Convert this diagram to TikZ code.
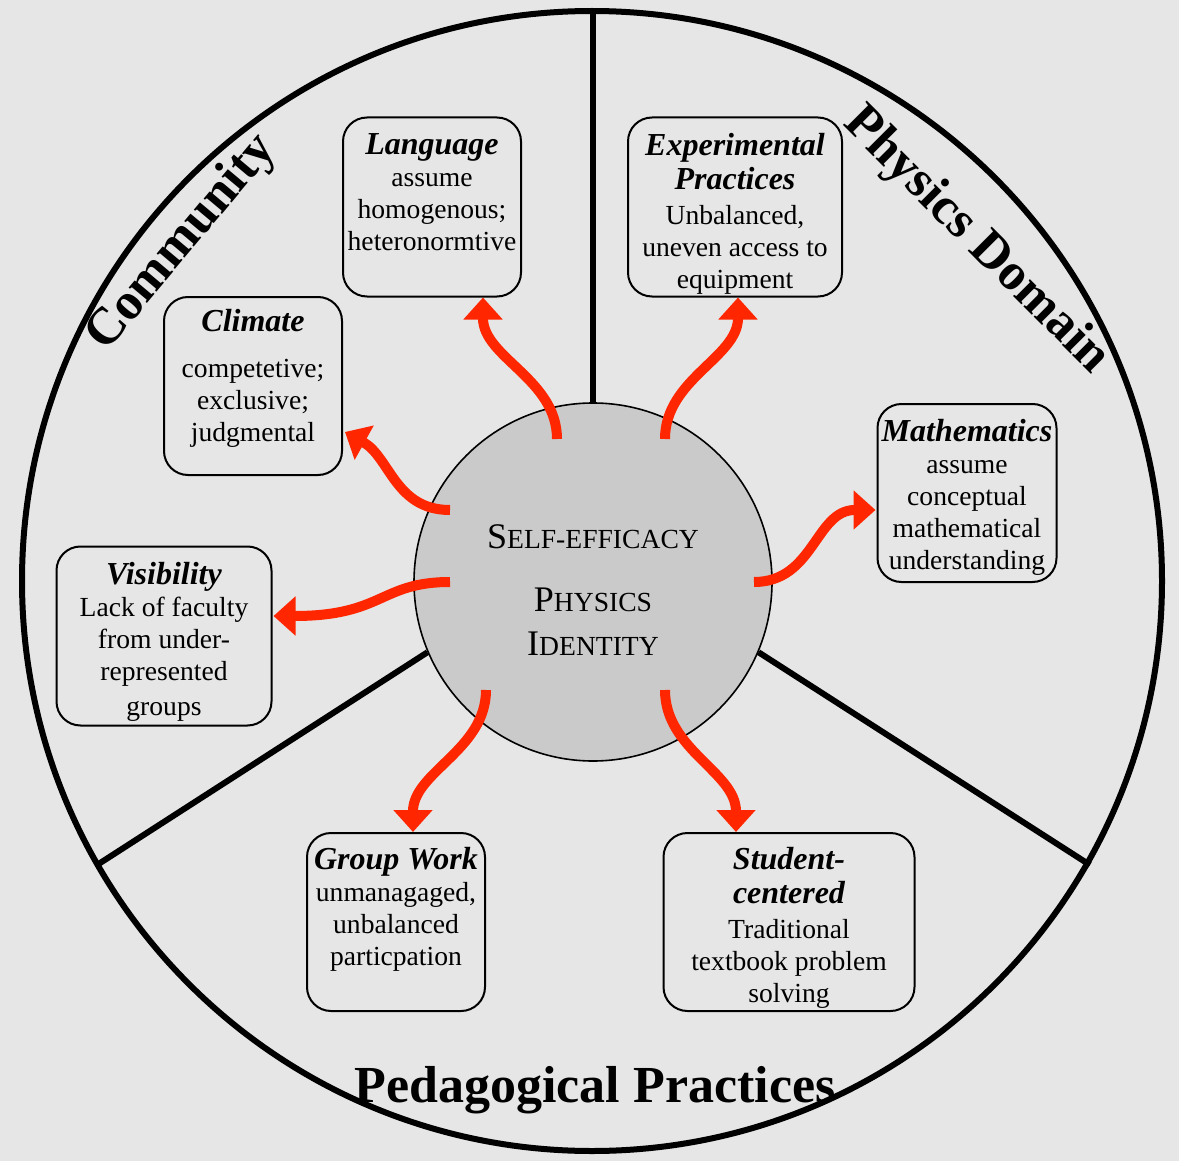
\documentclass[tikz,border=0pt]{standalone}
\usepackage{fontspec}
\setmainfont{Liberation Serif}
\usetikzlibrary{arrows.meta,calc}

\definecolor{wheelbg}{RGB}{230,230,230}
\definecolor{hubgray}{RGB}{202,202,202}
\definecolor{flowred}{RGB}{255,38,0}

% bold italic heading inside a box
\newcommand{\topic}[1]{{\fontsize{16}{17}\selectfont\bfseries\itshape #1}}
% hand made small caps (first letter large, rest smaller)
\newcommand{\fakesc}[2]{#1{\fontsize{13.8}{15}\selectfont #2}}

\begin{document}
\begin{tikzpicture}[x=0.5pt, y=-0.5pt,
    topicbox/.style={draw, line width=1pt, rounded corners=12pt},
    boxtext/.style={anchor=north, align=center, inner sep=0pt,
      font=\fontsize{13.8}{16}\selectfont},
    flow/.style={flowred, line width=5pt, -{Triangle[width=19pt,length=11pt]}},
    sectorname/.style={font=\fontsize{26}{28}\selectfont\bfseries},
    spoke/.style={line width=3pt}]

  \fill[wheelbg] (0,0) rectangle (1179,1161);
  \useasboundingbox (0,0) rectangle (1179,1161);

  % wheel and hub
  \draw[spoke] (592,581) circle (570);
  \node[circle, draw, line width=0.8pt, fill=hubgray, minimum size=179pt, inner sep=0pt] (hub) at (593,582) {};
  \node[align=center, inner sep=0pt, font=\fontsize{18}{22}\selectfont] (hub-txt) at (593,590)
    {\fakesc{S}{ELF-EFFICACY}\\[9.5pt] \fakesc{P}{HYSICS}\\ \fakesc{I}{DENTITY}};

  % three sectors
  \draw[spoke] (hub.north) -- (593,11);
  \draw[spoke] (hub.203) -- (97,865);
  \draw[spoke] (hub.337) -- (1090,865);

  % sector names
  \node[sectorname, rotate=50] (community) at (182,243) {Community};
  \node[sectorname, rotate=-45] (physdom) at (976,241) {Physics Domain};
  \node[sectorname] (pedagogy) at (595,1090) {Pedagogical Practices};

  % boxes
  \node[topicbox, minimum width=89pt, minimum height=89.5pt] (lang) at (432,207) {};
  \node[topicbox, minimum width=107pt, minimum height=89.5pt] (exper) at (735,207) {};
  \node[topicbox, minimum width=89pt, minimum height=89pt] (climate) at (253,386) {};
  \node[topicbox, minimum width=89.5pt, minimum height=89pt] (maths) at (967,493) {};
  \node[topicbox, minimum width=107.5pt, minimum height=89.5pt] (visib) at (164,636) {};
  \node[topicbox, minimum width=89pt, minimum height=89pt] (group) at (396,922) {};
  \node[topicbox, minimum width=125.5pt, minimum height=89pt] (student) at (789,922) {};

  \node[boxtext] (lang-txt) at ($(lang.north)+(0,17)$)
    {\topic{Language}\\ assume\\ homogenous;\\ heteronormtive};
  \node[boxtext] (exper-txt) at ($(exper.north)+(0,16)$)
    {\topic{Experimental}\\[1pt] \topic{Practices}\\[1.5pt] Unbalanced,\\ uneven access to\\ equipment};
  \node[boxtext] (climate-txt) at ($(climate.north)+(0,13)$)
    {\topic{Climate}\\[7pt] competetive;\\ exclusive;\\ judgmental};
  \node[boxtext] (maths-txt) at ($(maths.north)+(0,16)$)
    {\topic{Mathematics}\\ assume\\ conceptual\\ mathematical\\ understanding};
  \node[boxtext] (visib-txt) at ($(visib.north)+(0,16)$)
    {\topic{Visibility}\\ Lack of faculty\\ from under-\\ represented\\[1.5pt] groups};
  \node[boxtext] (group-txt) at ($(group.north)+(0,15)$)
    {\topic{Group Work}\\ unmanagaged,\\ unbalanced\\ particpation};
  \node[boxtext] (student-txt) at ($(student.north)+(0,15)$)
    {\topic{Student-}\\[1pt] \topic{centered}\\[1.5pt] Traditional\\ textbook problem\\ solving};

  % red links out of the hub
  \draw[flow] ($(hub.center)+(-36,-143)$) .. controls +(0,-60) and +(0,60) .. ($(lang.south)+(51,0)$);
  \draw[flow] ($(hub.center)+(72,-143)$) .. controls +(0,-60) and +(0,60) .. ($(exper.south)+(3,0)$);
  \draw[flow] ($(hub.center)+(-143,-72)$) .. controls +(-55,0) and +(45,25) .. ($(climate.east)+(2,46)$);
  \draw[flow] ($(hub.center)+(161,0)$) .. controls +(60,0) and +(-60,0) .. ($(maths.west)+(-1,17)$);
  \draw[flow] ($(hub.center)+(-143,0)$) .. controls +(-70,0) and +(110,0) .. ($(visib.east)+(1,-20)$);
  \draw[flow] ($(hub.center)+(-107,108)$) .. controls +(0,60) and +(0,-60) .. ($(group.north)+(17,0)$);
  \draw[flow] ($(hub.center)+(72,108)$) .. controls +(0,60) and +(0,-60) .. ($(student.north)+(-53,0)$);
\end{tikzpicture}
\end{document}
